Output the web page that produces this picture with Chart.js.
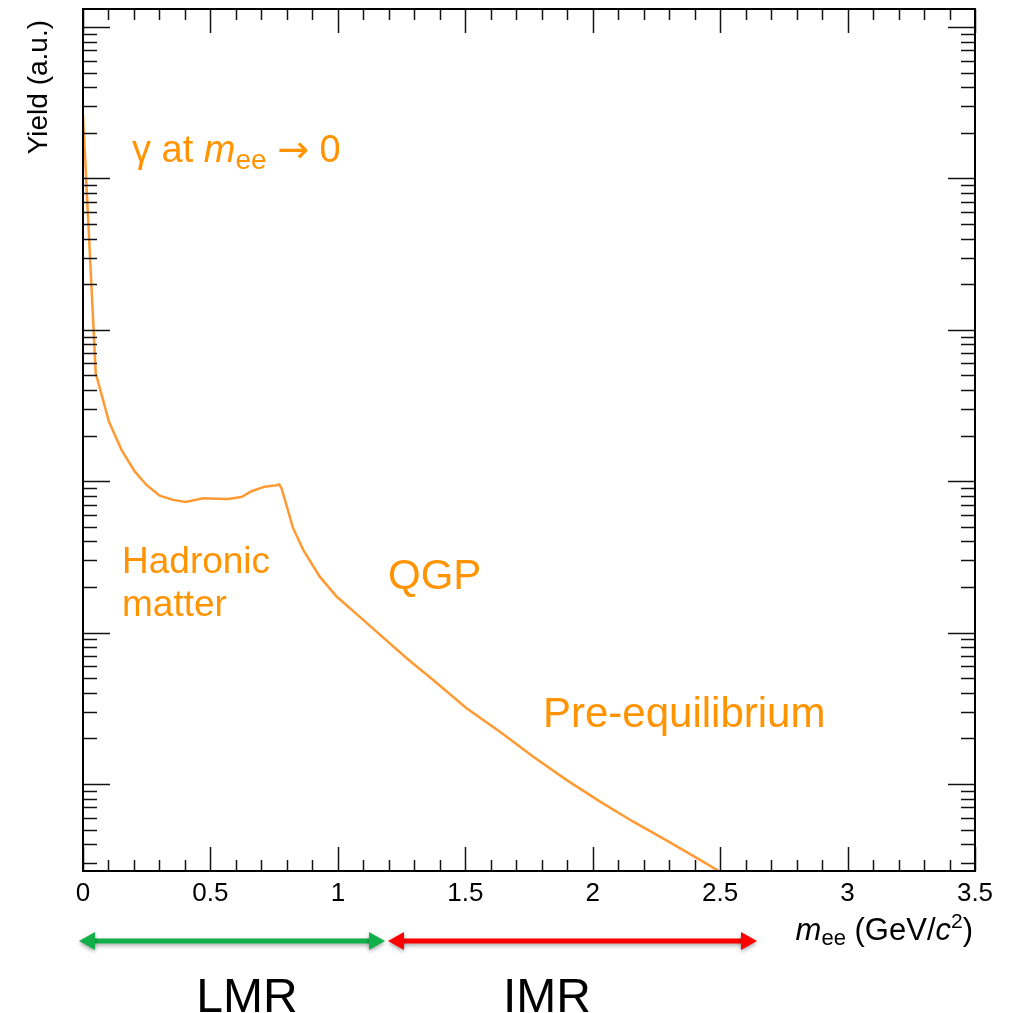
<!DOCTYPE html>
<html>
<head>
<meta charset="utf-8">
<script src="https://cdn.jsdelivr.net/npm/chart.js@4.4.1/dist/chart.umd.min.js"></script>
<style>
  body { margin: 0; background: #fff; }
  #wrap { width: 1015px; height: 1013px; position: relative; }
</style>
</head>
<body>
<div id="wrap"><canvas id="chart"></canvas></div>
<script>
// thermal dilepton yield (x in GeV/c^2, y arbitrary log units)
const massValues = [0, 0.05, 0.102, 0.151, 0.203, 0.249, 0.301, 0.353, 0.403, 0.471,
  0.524, 0.569, 0.622, 0.661, 0.713, 0.759, 0.770, 0.779, 0.824, 0.864, 0.929, 0.995,
  1.086, 1.270, 1.374, 1.505, 1.636, 1.767, 1.898, 2.029, 2.159, 2.291, 2.421, 2.493];
const yieldValues = [26200, 516, 247, 161, 116, 94.4, 80.2, 75.2, 72.9, 77.1,
  76.6, 76.3, 78.6, 85.8, 92.0, 94.0, 95.1, 89.8, 49.1, 35.2, 23.4, 17.3,
  12.7, 6.77, 4.86, 3.16, 2.21, 1.51, 1.06, 0.764, 0.563, 0.422, 0.315, 0.267];

const xTickLabels = ['0', '0.5', '1', '1.5', '2', '2.5', '3', '3.5'];
const xMin = 0, xMax = 3.5;
const yMin = 0.266, yMax = 131500;

const ORANGE_LINE = '#ff9a33';
const ORANGE_TEXT = '#ff9300';
const FONT = "'Liberation Sans', Arial, sans-serif";

let points = [];
for (let i = 0; i < massValues.length; i++) {
  points.push({x: massValues[i], y: yieldValues[i]});
}

// draw a line of text made of pieces (italic, subscript...)
function drawRich(ctx, parts, x, y, align) {
  let total = 0;
  for (let p of parts) {
    ctx.font = (p.italic ? 'italic ' : '') + p.size + 'px ' + (p.family || FONT);
    p.w = ctx.measureText(p.t).width;
    total += p.w;
  }
  let cx = align === 'right' ? x - total : x;
  ctx.textAlign = 'left';
  ctx.textBaseline = 'alphabetic';
  for (let p of parts) {
    ctx.font = (p.italic ? 'italic ' : '') + p.size + 'px ' + (p.family || FONT);
    ctx.fillText(p.t, cx, y + (p.dy || 0));
    cx += p.w;
  }
}

function drawArrow(ctx, x1, x2, y, color) {
  ctx.save();
  ctx.shadowColor = 'rgba(0,0,0,0.35)';
  ctx.shadowBlur = 4;
  ctx.shadowOffsetY = 2;
  ctx.strokeStyle = color;
  ctx.fillStyle = color;
  ctx.lineWidth = 5;
  ctx.beginPath();
  ctx.moveTo(x1 + 12, y);
  ctx.lineTo(x2 - 12, y);
  ctx.stroke();
  ctx.beginPath();
  ctx.moveTo(x1, y);
  ctx.lineTo(x1 + 16, y - 9);
  ctx.lineTo(x1 + 16, y + 9);
  ctx.closePath();
  ctx.fill();
  ctx.beginPath();
  ctx.moveTo(x2, y);
  ctx.lineTo(x2 - 16, y - 9);
  ctx.lineTo(x2 - 16, y + 9);
  ctx.closePath();
  ctx.fill();
  ctx.restore();
}

const rootFrame = {
  id: 'rootFrame',
  afterDraw(chart) {
    const ctx = chart.ctx;
    const xs = chart.scales.x, ys = chart.scales.y;
    const a = chart.chartArea;
    ctx.save();

    // inward ticks
    ctx.strokeStyle = '#111';
    ctx.lineWidth = 1.5;
    ctx.beginPath();
    for (let i = 0; i <= 35; i++) {
      const v = i / 10;
      const px = Math.round(xs.getPixelForValue(v)) + 0.5;
      const len = i % 5 === 0 ? 24 : 11;
      ctx.moveTo(px, a.bottom); ctx.lineTo(px, a.bottom - len);
      ctx.moveTo(px, a.top); ctx.lineTo(px, a.top + len);
    }
    for (let d = -1; d <= 5; d++) {
      for (let k = 1; k <= 9; k++) {
        const v = k * Math.pow(10, d);
        if (v < yMin || v > yMax) continue;
        const py = Math.round(ys.getPixelForValue(v)) + 0.5;
        const len = k === 1 ? 27 : 14;
        ctx.moveTo(a.left, py); ctx.lineTo(a.left + len, py);
        ctx.moveTo(a.right, py); ctx.lineTo(a.right - len, py);
      }
    }
    ctx.stroke();

    // frame
    ctx.lineWidth = 2;
    ctx.strokeStyle = '#000';
    ctx.strokeRect(a.left, a.top, a.right - a.left, a.bottom - a.top);

    // x tick labels
    ctx.fillStyle = '#000';
    ctx.font = '26px ' + FONT;
    ctx.textAlign = 'center';
    ctx.textBaseline = 'alphabetic';
    for (let lab of xTickLabels) {
      ctx.fillText(lab, xs.getPixelForValue(parseFloat(lab)), 901);
    }

    // axis titles
    drawRich(ctx, [
      {t: 'm', size: 31, italic: true},
      {t: 'ee', size: 22, dy: 5},
      {t: ' (GeV/', size: 31},
      {t: 'c', size: 31, italic: true},
      {t: '2', size: 21, dy: -12},
      {t: ')', size: 31}
    ], 973, 940, 'right');

    ctx.save();
    ctx.translate(47, 20);
    ctx.rotate(-Math.PI / 2);
    ctx.font = '28px ' + FONT;
    ctx.textAlign = 'right';
    ctx.textBaseline = 'alphabetic';
    ctx.fillText('Yield (a.u.)', 0, 0);
    ctx.restore();

    // orange annotations
    ctx.fillStyle = ORANGE_TEXT;
    drawRich(ctx, [
      {t: '\u03b3 at ', size: 38},
      {t: 'm', size: 38, italic: true},
      {t: 'ee', size: 28, dy: 7},
      {t: ' ', size: 38},
      {t: '\u2192', size: 38, family: "'DejaVu Sans', sans-serif"},
      {t: ' 0', size: 38}
    ], 132, 162, 'left');
    ctx.font = '37px ' + FONT;
    ctx.textAlign = 'left';
    ctx.fillText('Hadronic', 122, 573);
    ctx.fillText('matter', 122, 616);
    ctx.font = '42px ' + FONT;
    ctx.fillText('QGP', 388, 589);
    ctx.fillText('Pre-equilibrium', 543, 727);

    // mass regions
    drawArrow(ctx, 79, 385, 941, '#12b04a');
    drawArrow(ctx, 388, 757, 941, '#ff0000');
    ctx.fillStyle = '#000';
    ctx.font = '48px ' + FONT;
    ctx.textAlign = 'center';
    ctx.fillText('LMR', 247, 1012);
    ctx.fillText('IMR', 547, 1012);

    ctx.restore();
  }
};

new Chart(document.getElementById('chart'), {
  type: 'line',
  data: {
    datasets: [{
      data: points,
      borderColor: ORANGE_LINE,
      borderWidth: 2.5,
      pointRadius: 0,
      tension: 0,
      fill: false
    }]
  },
  options: {
    responsive: true,
    maintainAspectRatio: false,
    animation: false,
    devicePixelRatio: 1,
    layout: { padding: { left: 83, right: 40, top: 9, bottom: 142 } },
    plugins: { legend: { display: false }, tooltip: { enabled: false } },
    scales: {
      x: { type: 'linear', min: xMin, max: xMax, display: false },
      y: { type: 'logarithmic', min: yMin, max: yMax, display: false }
    }
  },
  plugins: [rootFrame]
});
</script>
</body>
</html>
